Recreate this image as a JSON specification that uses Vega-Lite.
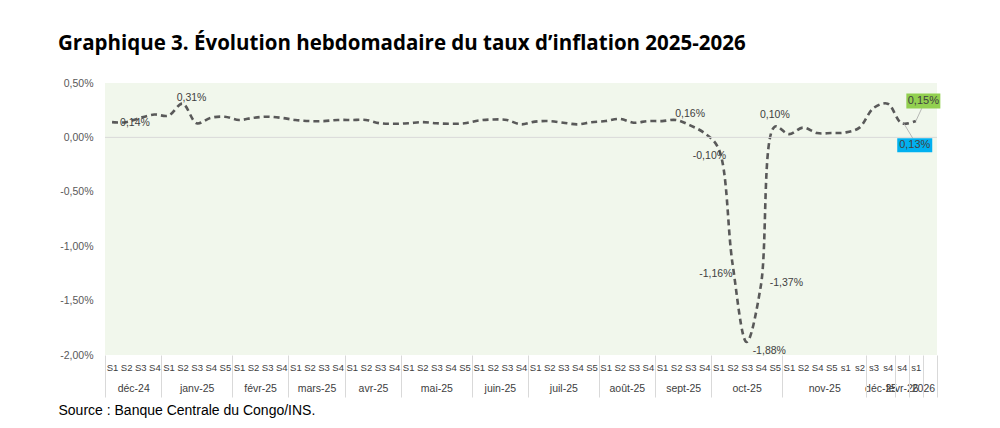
{
  "$schema": "https://vega.github.io/schema/vega-lite/v6.json",
  "width": 832,
  "height": 272,
  "autosize": {"type": "none"},
  "padding": {"left": 105, "top": 83, "right": 63, "bottom": 73},
  "background": "white",
  "title": {
    "text": "Graphique 3. Évolution hebdomadaire du taux d’inflation 2025-2026",
    "anchor": "start",
    "frame": "group",
    "dx": -47,
    "offset": 24,
    "font": "Open Sans",
    "fontSize": 20.5,
    "fontWeight": 700,
    "color": "#000000"
  },
  "config": {
    "locale": {"number": {"decimal": ",", "thousands": " ", "grouping": [3], "currency": ["", " €"], "percent": "%", "minus": "-"}},
    "view": {"stroke": null, "fill": "#F1F7EC"},
    "text": {"font": "Liberation Sans", "fontSize": 10.5, "color": "#404040", "baseline": "middle"}
  },
  "data": {
    "values": [
      {"idx": 0, "month": "déc-24", "week": "S1", "v": 0.0014},
      {"idx": 1, "month": "déc-24", "week": "S2", "v": 0.0014},
      {"idx": 2, "month": "déc-24", "week": "S3", "v": 0.0018},
      {"idx": 3, "month": "déc-24", "week": "S4", "v": 0.0021},
      {"idx": 4, "month": "janv-25", "week": "S1", "v": 0.0020},
      {"idx": 5, "month": "janv-25", "week": "S2", "v": 0.0031},
      {"idx": 6, "month": "janv-25", "week": "S3", "v": 0.0013},
      {"idx": 7, "month": "janv-25", "week": "S4", "v": 0.0018},
      {"idx": 8, "month": "janv-25", "week": "S5", "v": 0.0019},
      {"idx": 9, "month": "févr-25", "week": "S1", "v": 0.0016},
      {"idx": 10, "month": "févr-25", "week": "S2", "v": 0.0018},
      {"idx": 11, "month": "févr-25", "week": "S3", "v": 0.0019},
      {"idx": 12, "month": "févr-25", "week": "S4", "v": 0.0018},
      {"idx": 13, "month": "mars-25", "week": "S1", "v": 0.0016},
      {"idx": 14, "month": "mars-25", "week": "S2", "v": 0.0015},
      {"idx": 15, "month": "mars-25", "week": "S3", "v": 0.0015},
      {"idx": 16, "month": "mars-25", "week": "S4", "v": 0.0016},
      {"idx": 17, "month": "avr-25", "week": "S1", "v": 0.0016},
      {"idx": 18, "month": "avr-25", "week": "S2", "v": 0.0016},
      {"idx": 19, "month": "avr-25", "week": "S3", "v": 0.0013},
      {"idx": 20, "month": "avr-25", "week": "S4", "v": 0.00125},
      {"idx": 21, "month": "mai-25", "week": "S1", "v": 0.0013},
      {"idx": 22, "month": "mai-25", "week": "S2", "v": 0.0014},
      {"idx": 23, "month": "mai-25", "week": "S3", "v": 0.0013},
      {"idx": 24, "month": "mai-25", "week": "S4", "v": 0.00125},
      {"idx": 25, "month": "mai-25", "week": "S5", "v": 0.0013},
      {"idx": 26, "month": "juin-25", "week": "S1", "v": 0.00155},
      {"idx": 27, "month": "juin-25", "week": "S2", "v": 0.00165},
      {"idx": 28, "month": "juin-25", "week": "S3", "v": 0.0016},
      {"idx": 29, "month": "juin-25", "week": "S4", "v": 0.0012},
      {"idx": 30, "month": "juil-25", "week": "S1", "v": 0.00145},
      {"idx": 31, "month": "juil-25", "week": "S2", "v": 0.0015},
      {"idx": 32, "month": "juil-25", "week": "S3", "v": 0.00135},
      {"idx": 33, "month": "juil-25", "week": "S4", "v": 0.0012},
      {"idx": 34, "month": "juil-25", "week": "S5", "v": 0.0014},
      {"idx": 35, "month": "août-25", "week": "S1", "v": 0.0015},
      {"idx": 36, "month": "août-25", "week": "S2", "v": 0.0017},
      {"idx": 37, "month": "août-25", "week": "S3", "v": 0.00135},
      {"idx": 38, "month": "août-25", "week": "S4", "v": 0.0015},
      {"idx": 39, "month": "sept-25", "week": "S1", "v": 0.0015},
      {"idx": 40, "month": "sept-25", "week": "S2", "v": 0.0016},
      {"idx": 41, "month": "sept-25", "week": "S3", "v": 0.0011},
      {"idx": 42, "month": "sept-25", "week": "S4", "v": 0.0004},
      {"idx": 43, "month": "oct-25", "week": "S1", "v": -0.0010},
      {"idx": 44, "month": "oct-25", "week": "S2", "v": -0.0116},
      {"idx": 45, "month": "oct-25", "week": "S3", "v": -0.0188},
      {"idx": 46, "month": "oct-25", "week": "S4", "v": -0.0137},
      {"idx": 47, "month": "oct-25", "week": "S5", "v": 0.0010},
      {"idx": 48, "month": "nov-25", "week": "S1", "v": 0.0003},
      {"idx": 49, "month": "nov-25", "week": "S2", "v": 0.0009},
      {"idx": 50, "month": "nov-25", "week": "S4", "v": 0.0004},
      {"idx": 51, "month": "nov-25", "week": "S5", "v": 0.0004},
      {"idx": 52, "month": "nov-25", "week": "s1", "v": 0.00045},
      {"idx": 53, "month": "nov-25", "week": "s2", "v": 0.0009},
      {"idx": 54, "month": "déc-25", "week": "s3", "v": 0.0027},
      {"idx": 55, "month": "déc-25", "week": "s4", "v": 0.0031},
      {"idx": 56, "month": "févr-26", "week": "s4", "v": 0.0013},
      {"idx": 57, "month": "2026", "week": "s1", "v": 0.0015}
    ]
  },
  "resolve": {"axis": {"x": "independent", "y": "independent"}},
  "layer": [
    {
      "mark": {"type": "line", "color": "#595959", "strokeWidth": 2.6, "strokeDash": [6, 4], "interpolate": "catmull-rom"},
      "encoding": {
        "x": {
          "field": "idx", "type": "quantitative",
          "scale": {"domain": [-0.5, 58.5], "nice": false, "zero": false},
          "axis": {
            "orient": "bottom",
            "title": null, "values": [0,1,2,3,4,5,6,7,8,9,10,11,12,13,14,15,16,17,18,19,20,21,22,23,24,25,26,27,28,29,30,31,32,33,34,35,36,37,38,39,40,41,42,43,44,45,46,47,48,49,50,51,52,53,54,55,56,57,58],
            "labelExpr": "['S1','S2','S3','S4','S1','S2','S3','S4','S5','S1','S2','S3','S4','S1','S2','S3','S4','S1','S2','S3','S4','S1','S2','S3','S4','S5','S1','S2','S3','S4','S1','S2','S3','S4','S5','S1','S2','S3','S4','S1','S2','S3','S4','S1','S2','S3','S4','S5','S1','S2','S4','S5','s1','s2','s3','s4','s4','s1',''][datum.value]",
            "ticks": false, "domain": false, "grid": false,
            "labelPadding": 7, "labelFont": "Liberation Sans", "labelFontSize": 9.5, "labelColor": "#404040",
            "labelOverlap": false, "labelFlush": false, "labelBound": false
          }
        },
        "y": {
          "field": "v", "type": "quantitative",
          "scale": {"domain": [-0.02, 0.005], "nice": false, "zero": false},
          "axis": {
            "orient": "left",
            "title": null, "values": [-0.02, -0.015, -0.01, -0.005, 0, 0.005], "format": ".2%",
            "ticks": false, "domain": false, "grid": false,
            "labelPadding": 12, "labelFont": "Liberation Sans", "labelFontSize": 10.5, "labelColor": "#595959"
          }
        }
      }
    },
    {
      "data": {"values": [{"zero": 0}]},
      "mark": {"type": "rule", "color": "#D9D9D9", "strokeWidth": 1},
      "encoding": {"y": {"field": "zero", "type": "quantitative", "axis": null}}
    },
    {
      "mark": {"type": "point", "opacity": 0},
      "encoding": {
        "x": {
          "field": "idx", "type": "quantitative",
          "axis": {
            "orient": "bottom",
            "title": null, "values": [1.5, 6, 10.5, 14.5, 18.5, 23, 27.5, 32, 36.5, 40.5, 45, 50.5, 54.5, 56, 57.5],
            "labelExpr": "{'1.5':'déc-24','6':'janv-25','10.5':'févr-25','14.5':'mars-25','18.5':'avr-25','23':'mai-25','27.5':'juin-25','32':'juil-25','36.5':'août-25','40.5':'sept-25','45':'oct-25','50.5':'nov-25','54.5':'déc-25','56':'févr-26','57.5':'2026'}[datum.value]",
            "ticks": false, "domain": false, "grid": false,
            "labelPadding": 28, "labelFont": "Liberation Sans", "labelFontSize": 10.5, "labelColor": "#404040",
            "labelOverlap": false, "labelFlush": false, "labelBound": false
          }
        },
        "y": {"field": "v", "type": "quantitative", "axis": null}
      }
    },
    {
      "mark": {"type": "point", "opacity": 0},
      "encoding": {
        "x": {
          "field": "idx", "type": "quantitative",
          "axis": {
            "orient": "bottom",
            "values": [-0.5, 3.5, 8.5, 12.5, 16.5, 20.5, 25.5, 29.5, 34.5, 38.5, 42.5, 47.5, 53.5, 55.5, 56.5, 57.5, 58.5],
            "labels": false, "ticks": true, "tickSize": 42, "tickColor": "#D9D9D9", "tickWidth": 1,
            "domain": false, "grid": false,
            "title": "Source : Banque Centrale du Congo/INS.",
            "titleX": -47, "titleY": 55, "titleAlign": "left", "titleBaseline": "middle", "titleAngle": 0,
            "titleFont": "Liberation Sans", "titleFontSize": 14, "titleFontWeight": "normal", "titleColor": "#000000"
          }
        },
        "y": {"field": "v", "type": "quantitative", "axis": null}
      }
    },
    {
      "transform": [{"filter": "datum.idx == 0"}],
      "mark": {"type": "text", "align": "left", "dx": 8, "dy": 1},
      "encoding": {"x": {"field": "idx", "type": "quantitative", "axis": null}, "y": {"field": "v", "type": "quantitative", "axis": null}, "text": {"field": "v", "format": ".2%"}}
    },
    {
      "transform": [{"filter": "datum.idx == 5"}],
      "mark": {"type": "text", "align": "center", "dx": 9, "dy": -6},
      "encoding": {"x": {"field": "idx", "type": "quantitative", "axis": null}, "y": {"field": "v", "type": "quantitative", "axis": null}, "text": {"field": "v", "format": ".2%"}}
    },
    {
      "transform": [{"filter": "datum.idx == 40"}],
      "mark": {"type": "text", "align": "center", "dx": 14, "dy": -6},
      "encoding": {"x": {"field": "idx", "type": "quantitative", "axis": null}, "y": {"field": "v", "type": "quantitative", "axis": null}, "text": {"field": "v", "format": ".2%"}}
    },
    {
      "transform": [{"filter": "datum.idx == 43"}],
      "mark": {"type": "text", "align": "center", "dx": -9, "dy": 8},
      "encoding": {"x": {"field": "idx", "type": "quantitative", "axis": null}, "y": {"field": "v", "type": "quantitative", "axis": null}, "text": {"field": "v", "format": ".2%"}}
    },
    {
      "transform": [{"filter": "datum.idx == 44"}],
      "mark": {"type": "text", "align": "right", "dx": 0, "dy": 10},
      "encoding": {"x": {"field": "idx", "type": "quantitative", "axis": null}, "y": {"field": "v", "type": "quantitative", "axis": null}, "text": {"field": "v", "format": ".2%"}}
    },
    {
      "transform": [{"filter": "datum.idx == 45"}],
      "mark": {"type": "text", "align": "left", "dx": 6, "dy": 9},
      "encoding": {"x": {"field": "idx", "type": "quantitative", "axis": null}, "y": {"field": "v", "type": "quantitative", "axis": null}, "text": {"field": "v", "format": ".2%"}}
    },
    {
      "transform": [{"filter": "datum.idx == 46"}],
      "mark": {"type": "text", "align": "left", "dx": 9, "dy": -3},
      "encoding": {"x": {"field": "idx", "type": "quantitative", "axis": null}, "y": {"field": "v", "type": "quantitative", "axis": null}, "text": {"field": "v", "format": ".2%"}}
    },
    {
      "transform": [{"filter": "datum.idx == 47"}],
      "mark": {"type": "text", "align": "center", "dx": 0, "dy": -12},
      "encoding": {"x": {"field": "idx", "type": "quantitative", "axis": null}, "y": {"field": "v", "type": "quantitative", "axis": null}, "text": {"field": "v", "format": ".2%"}}
    },
    {
      "transform": [{"filter": "datum.idx == 57"}],
      "mark": {"type": "rule", "color": "#A6A6A6", "strokeWidth": 0.8, "x2Offset": 6, "y2Offset": -13},
      "encoding": {
        "x": {"field": "idx", "type": "quantitative", "axis": null},
        "y": {"field": "v", "type": "quantitative", "axis": null},
        "x2": {"field": "idx"},
        "y2": {"field": "v"}
      }
    },
    {
      "transform": [{"filter": "datum.idx == 56"}],
      "mark": {"type": "rule", "color": "#A6A6A6", "strokeWidth": 0.8, "xOffset": 2, "x2Offset": 11, "y2Offset": 15},
      "encoding": {
        "x": {"field": "idx", "type": "quantitative", "axis": null},
        "y": {"field": "v", "type": "quantitative", "axis": null},
        "x2": {"field": "idx"},
        "y2": {"field": "v"}
      }
    },
    {
      "transform": [{"filter": "datum.idx == 57"}],
      "mark": {"type": "point", "shape": "M-1,-0.44H1V0.44H-1Z", "size": 1156, "filled": true, "fill": "#92D050", "stroke": null, "opacity": 1, "xOffset": 7.5, "yOffset": -20},
      "encoding": {"x": {"field": "idx", "type": "quantitative", "axis": null}, "y": {"field": "v", "type": "quantitative", "axis": null}}
    },
    {
      "transform": [{"filter": "datum.idx == 57"}],
      "mark": {"type": "text", "align": "center", "dx": 7.5, "dy": -20, "fontSize": 11},
      "encoding": {"x": {"field": "idx", "type": "quantitative", "axis": null}, "y": {"field": "v", "type": "quantitative", "axis": null}, "text": {"field": "v", "format": ".2%"}}
    },
    {
      "transform": [{"filter": "datum.idx == 56"}],
      "mark": {"type": "point", "shape": "M-1,-0.4H1V0.4H-1Z", "size": 1225, "filled": true, "fill": "#00B0F0", "stroke": null, "opacity": 1, "xOffset": 13, "yOffset": 22},
      "encoding": {"x": {"field": "idx", "type": "quantitative", "axis": null}, "y": {"field": "v", "type": "quantitative", "axis": null}}
    },
    {
      "transform": [{"filter": "datum.idx == 56"}],
      "mark": {"type": "text", "align": "center", "dx": 13, "dy": 22, "fontSize": 11},
      "encoding": {"x": {"field": "idx", "type": "quantitative", "axis": null}, "y": {"field": "v", "type": "quantitative", "axis": null}, "text": {"field": "v", "format": ".2%"}}
    }
  ]
}
